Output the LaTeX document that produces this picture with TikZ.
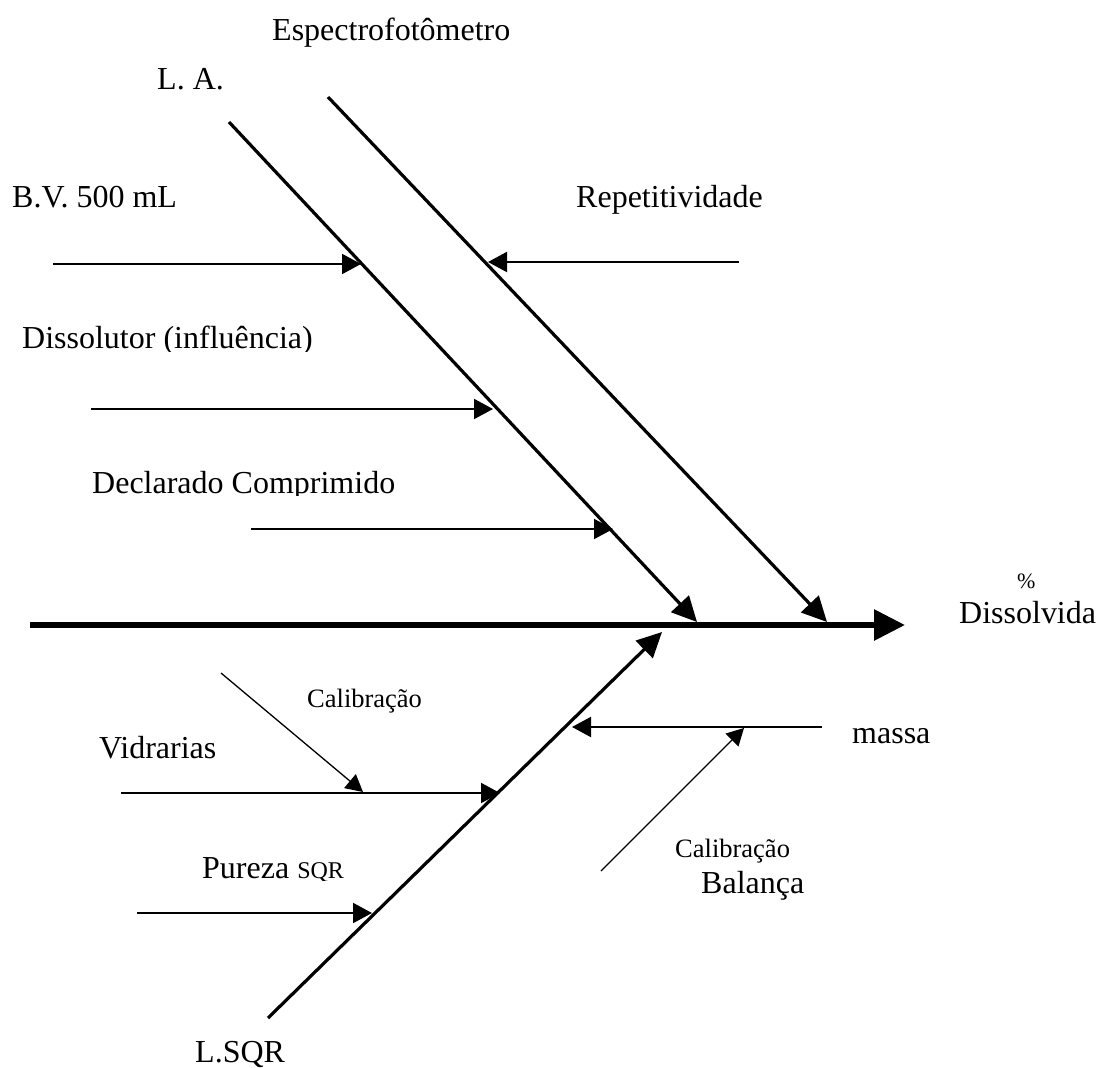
\documentclass[tikz,border=0pt]{standalone}
\usepackage{fontspec}
\setmainfont{Liberation Serif}
\usetikzlibrary{arrows.meta}

\begin{document}
\begin{tikzpicture}[x=1pt,y=-1pt,
  lbl/.style={anchor=base west, inner sep=0pt, font=\fontsize{32}{38}\selectfont},
  smalllbl/.style={anchor=base west, inner sep=0pt, font=\fontsize{26.5}{32}\selectfont},
  tinylbl/.style={anchor=base west, inner sep=0pt, font=\fontsize{22}{26}\selectfont},
  spine/.style={line width=6pt, -{Triangle[length=31pt,width=30pt]}},
  bone/.style={line width=3.2pt, -{Triangle[length=25pt,width=24pt]}},
  cause/.style={line width=2pt, -{Triangle[length=19pt,width=20pt]}},
  subcause/.style={line width=1.3pt, -{Triangle[length=17pt,width=18pt]}},
]
% page frame
\fill[white] (0,0) rectangle (1096,1068);
\useasboundingbox (0,0) rectangle (1096,1068);

% end points of the spine and the three bones
\coordinate (spineS) at (30,625);
\coordinate (spineE) at (905,625);
\coordinate (laS) at (229,122);
\coordinate (laE) at (697,622);
\coordinate (espS) at (328,97);
\coordinate (espE) at (827,622);
\coordinate (sqrS) at (268,1018);
\coordinate (sqrE) at (662,632);

% end points of the causes
\coordinate (bvS) at (53,264);    \coordinate (bvE) at (361,264);
\coordinate (repS) at (739,262);  \coordinate (repE) at (488,262);
\coordinate (disS) at (91,409);   \coordinate (disE) at (493,409);
\coordinate (decS) at (251,529);  \coordinate (decE) at (613,529);
\coordinate (vidS) at (121,793);  \coordinate (vidE) at (500,793);
\coordinate (purS) at (137,913);  \coordinate (purE) at (372,913);
\coordinate (masS) at (822,727);  \coordinate (masE) at (572,727);
\coordinate (calvS) at (221,673); \coordinate (calvE) at (363,792);
\coordinate (calbS) at (601,871); \coordinate (calbE) at (744,728);

% spine and bones
\draw[spine] (spineS) -- (spineE);
\draw[bone] (laS) -- (laE);
\draw[bone] (espS) -- (espE);
\draw[bone] (sqrS) -- (sqrE);

% causes
\draw[cause] (bvS) -- (bvE);
\draw[cause] (repS) -- (repE);
\draw[cause] (disS) -- (disE);
\draw[cause] (decS) -- (decE);
\draw[cause] (vidS) -- (vidE);
\draw[cause] (purS) -- (purE);
\draw[cause] (masS) -- (masE);

% sub-causes
\draw[subcause] (calvS) -- (calvE);
\draw[subcause] (calbS) -- (calbE);

% labels
\node[lbl] (tEsp) at (272,40) {Espectrofotômetro};
\node[lbl] (tLA) at (157,89) {L. A.};
\node[lbl] (tBV) at (12,207) {B.V. 500 mL};
\node[lbl] (tRep) at (576,207) {Repetitividade};
\begin{scope}
  \clip (0,300) rectangle (400,351);
  \node[lbl] (tDis) at (22,348) {Dissolutor (influência)};
\end{scope}
\begin{scope}
  \clip (60,450) rectangle (480,495);
  \node[lbl] (tDec) at (92,493) {Declarado Comprimido};
\end{scope}
\begin{scope}
  \clip (60,710) rectangle (300,760);
  \node[lbl] (tVid) at (99,758) {Vidrarias};
\end{scope}
\begin{scope}
  \clip (160,830) rectangle (400,880);
  \node[lbl] (tPur) at (202,878) {Pureza {\fontsize{24}{28}\selectfont SQR}};
\end{scope}
\node[smalllbl] (tCalV) at (307,707) {Calibração};
\node[lbl] (tMas) at (852,743) {massa};
\node[smalllbl] (tCalB) at (675,857) {Calibração};
\node[lbl] (tBal) at (701,893) {Balança};
\node[tinylbl] (tPct) at (1017,588) {\%};
\node[lbl] (tDisv) at (959,623) {Dissolvida};
\node[lbl] (tLSQR) at (195,1062) {L.SQR};
\end{tikzpicture}
\end{document}
